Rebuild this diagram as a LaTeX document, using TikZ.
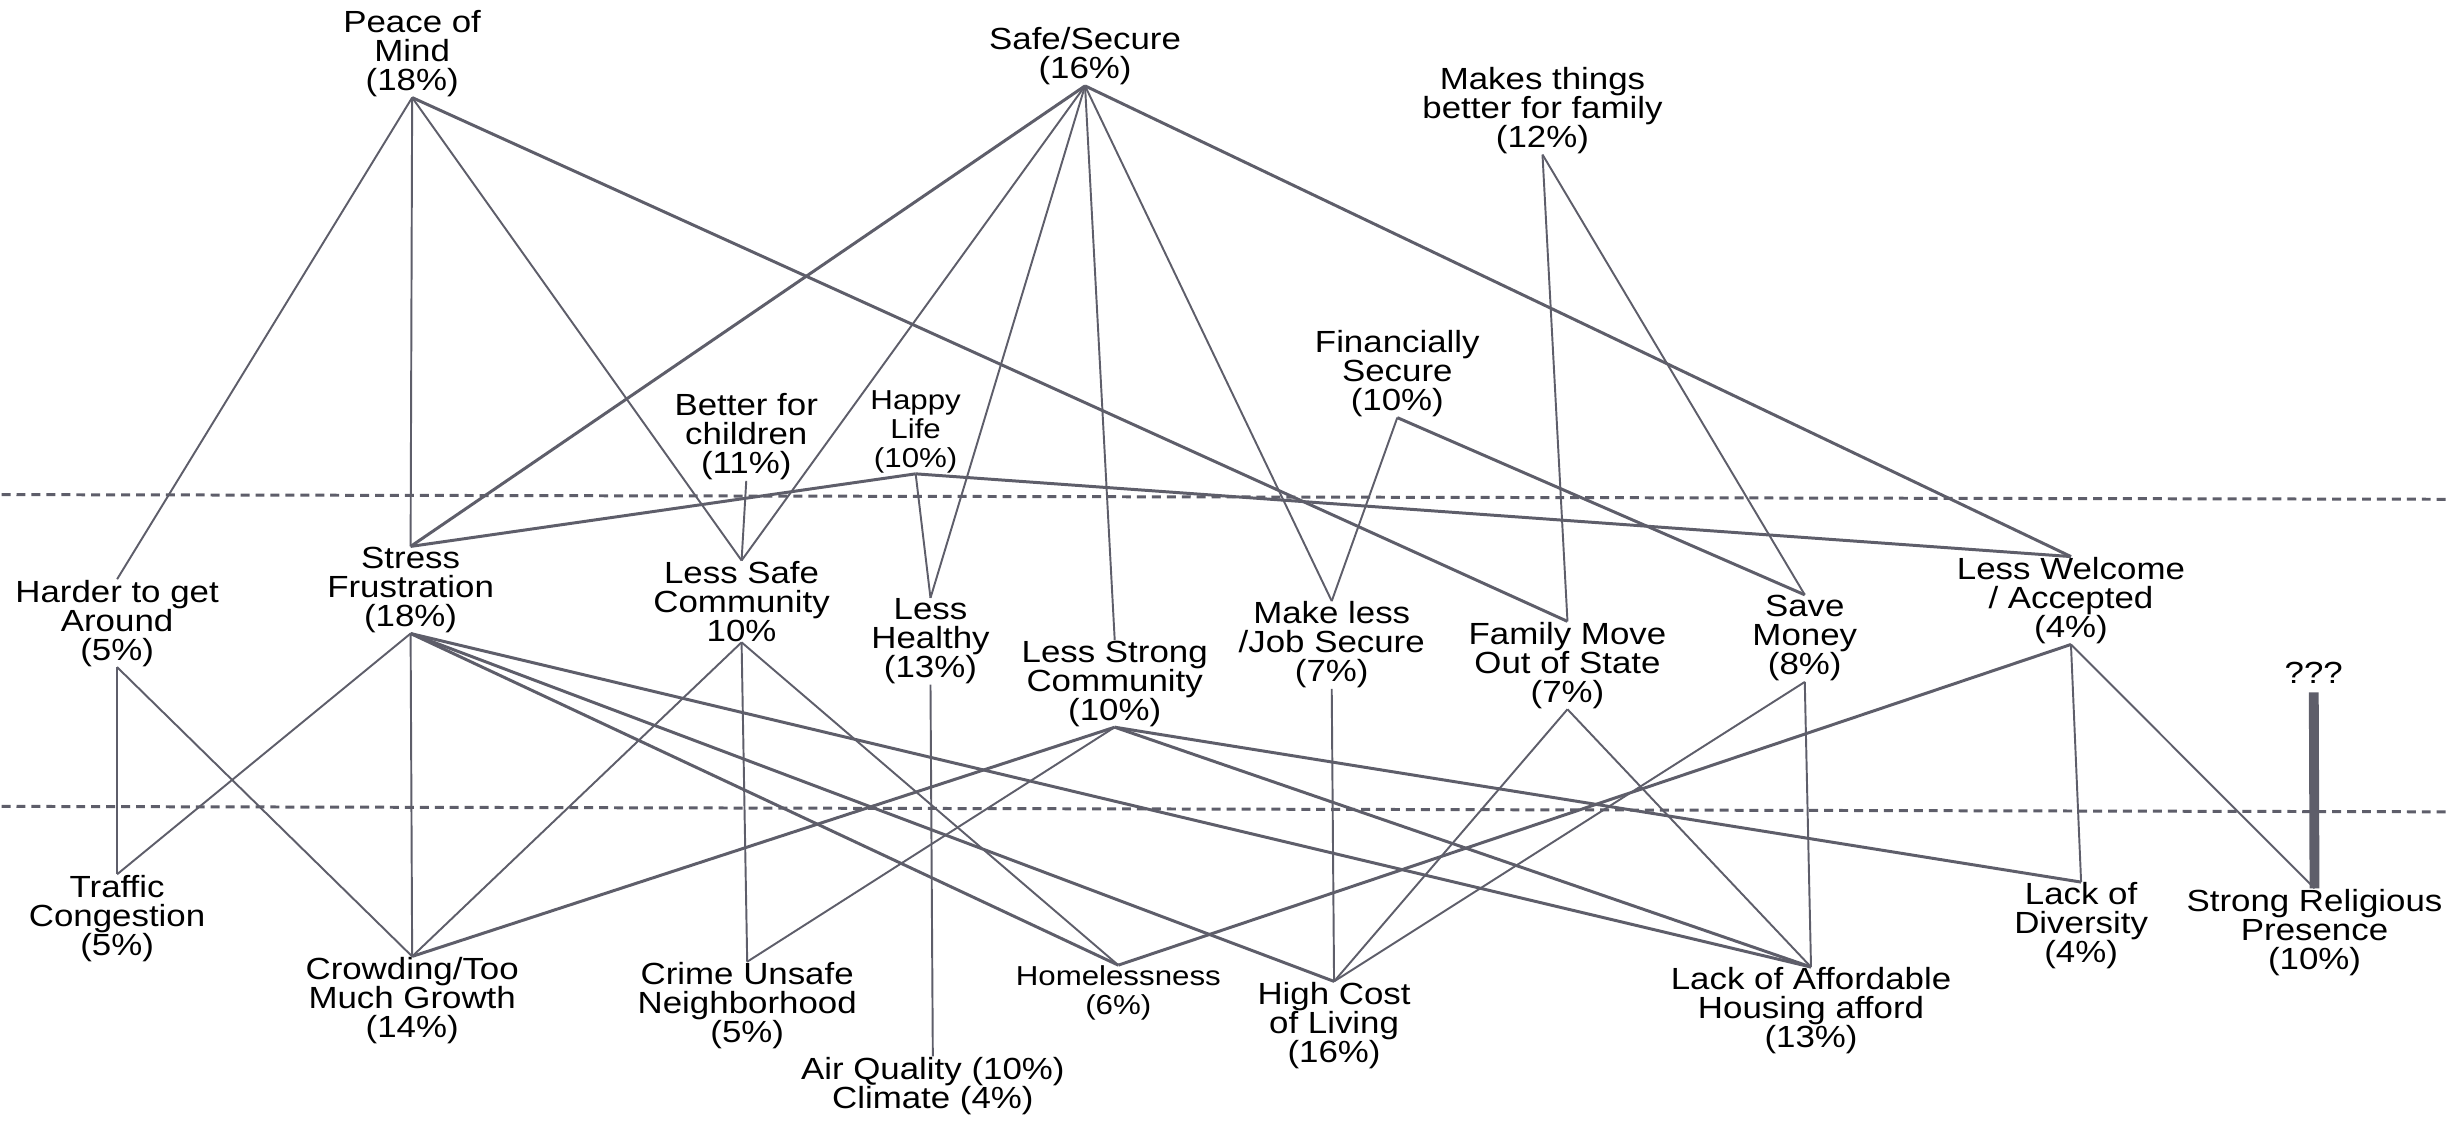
\documentclass[tikz,border=0pt]{standalone}
\usepackage{fontspec}
\setmainfont{Liberation Sans}[FakeStretch=1.14]
\usepackage{tikz}
\definecolor{linkgray}{RGB}{94,94,106}

\begin{document}
\begin{tikzpicture}[x=0.015612cm, y=-0.015612cm,
  lbl/.style={align=center, inner sep=0pt, font=\fontsize{8.7}{8.25}\selectfont},
  lblsmall/.style={lbl, font=\fontsize{7.8}{8.2}\selectfont},
  link/.style={draw=linkgray, line width=0.55pt},
  heavy/.style={draw=linkgray, line width=0.85pt},
  divider/.style={draw=linkgray, line width=0.85pt, dash pattern=on 2.55pt off 1.7pt}]
\useasboundingbox (0,0) rectangle (1568,718);

\draw[divider] (1,316.8) -- (1568,319.8);
\draw[divider] (1,516.5) -- (1568,520);

% top row
\node[lbl, anchor=south] (peace) at (264,62.5) {Peace of\\Mind\\(18\%)};
\node[lbl, anchor=south] (safe) at (695,55) {Safe/Secure\\(16\%)};
\node[lbl, anchor=south] (famgood) at (988,99) {Makes things\\better for family\\(12\%)};
\node[lbl, anchor=south] (finsec) at (895,267.5) {Financially\\Secure\\(10\%)};
\node[lbl, anchor=south] (children) at (478,308) {Better for\\children\\(11\%)};
\node[lblsmall, anchor=south] (happy) at (586.5,303.5) {Happy\\Life\\(10\%)};

% middle row
\node[lbl, anchor=north] (harder) at (75,371) {Harder to get\\Around\\(5\%)};
\node[lbl, anchor=north] (stress) at (263,350) {Stress\\Frustration\\(18\%)};
\node[lbl, anchor=north] (lesssafe) at (475,359) {Less Safe\\Community\\10\%};
\node[lbl, anchor=north] (healthy) at (596,383) {Less\\Healthy\\(13\%)};
\node[lbl, anchor=north] (strong) at (714,410) {Less Strong\\Community\\(10\%)};
\node[lbl, anchor=north] (jobsec) at (853,385) {Make less\\/Job Secure\\(7\%)};
\node[lbl, anchor=north] (moveout) at (1004,398) {Family Move\\Out of State\\(7\%)};
\node[lbl, anchor=north] (save) at (1156,381) {Save\\Money\\(8\%)};
\node[lbl, anchor=north] (welcome) at (1326.5,356.5) {Less Welcome\\/ Accepted\\(4\%)};
\node[lbl] (qqq) at (1482,431) {???};

% bottom row
\node[lbl, anchor=north] (traffic) at (75,560) {Traffic\\Congestion\\(5\%)};
\node[lbl, anchor=north] (crowd) at (264,612.6) {Crowding/Too\\Much Growth\\(14\%)};
\node[lbl, anchor=north] (crime) at (478.6,616) {Crime Unsafe\\Neighborhood\\(5\%)};
\node[lblsmall, anchor=north] (homeless) at (716.3,618.2) {Homelessness\\(6\%)};
\node[lbl, anchor=north] (air) at (597.5,676.7) {Air Quality (10\%)\\Climate (4\%)};
\node[lbl, anchor=north] (cost) at (854.5,628.6) {High Cost\\of Living\\(16\%)};
\node[lbl, anchor=north] (housing) at (1160,619.4) {Lack of Affordable\\Housing afford\\(13\%)};
\node[lbl, anchor=north] (diversity) at (1333,565) {Lack of\\Diversity\\(4\%)};
\node[lbl, anchor=north] (religious) at (1482.5,569) {Strong Religious\\Presence\\(10\%)};

% upper links
\draw[link] (peace.south) -- (harder.north);
\draw[link] (peace.south) -- (stress.north);
\draw[link] (peace.south) -- (lesssafe.north);
\draw[heavy] (peace.south) -- (moveout.north);
\draw[heavy] (safe.south) -- (stress.north);
\draw[link] (safe.south) -- (lesssafe.north);
\draw[link] (safe.south) -- (healthy.north);
\draw[link] (safe.south) -- (strong.north);
\draw[link] (safe.south) -- (jobsec.north);
\draw[heavy] (safe.south) -- (welcome.north);
\draw[link] (famgood.south) -- (moveout.north);
\draw[link] (famgood.south) -- (save.north);
\draw[link] (finsec.south) -- (jobsec.north);
\draw[heavy] (finsec.south) -- (save.north);
\draw[link] (children.south) -- (lesssafe.north);
\draw[heavy] (happy.south) -- (stress.north);
\draw[link] (happy.south) -- (healthy.north);
\draw[heavy] (happy.south) -- (welcome.north);

% lower links
\draw[link] (harder.south) -- (traffic.north);
\draw[link] (harder.south) -- (crowd.north);
\draw[link] (stress.south) -- (traffic.north);
\draw[link] (stress.south) -- (crowd.north);
\draw[heavy] (stress.south) -- (homeless.north);
\draw[heavy] (stress.south) -- (cost.north);
\draw[heavy] (stress.south) -- (housing.north);
\draw[link] (lesssafe.south) -- (crowd.north);
\draw[link] (lesssafe.south) -- (crime.north);
\draw[link] (lesssafe.south) -- (homeless.north);
\draw[link] (healthy.south) -- (air.north);
\draw[heavy] (strong.south) -- (crowd.north);
\draw[link] (strong.south) -- (crime.north);
\draw[heavy] (strong.south) -- (housing.north);
\draw[heavy] (strong.south) -- (diversity.north);
\draw[link] (jobsec.south) -- (cost.north);
\draw[link] (moveout.south) -- (cost.north);
\draw[link] (moveout.south) -- (housing.north);
\draw[link] (save.south) -- (cost.north);
\draw[link] (save.south) -- (housing.north);
\draw[heavy] (welcome.south) -- (homeless.north);
\draw[link] (welcome.south) -- (diversity.north);
\draw[link] (welcome.south) -- (religious.north);
\draw[linkgray, line width=2.8pt, shorten <=2.3pt] (qqq.south) -- (religious.north);

\end{tikzpicture}
\end{document}
